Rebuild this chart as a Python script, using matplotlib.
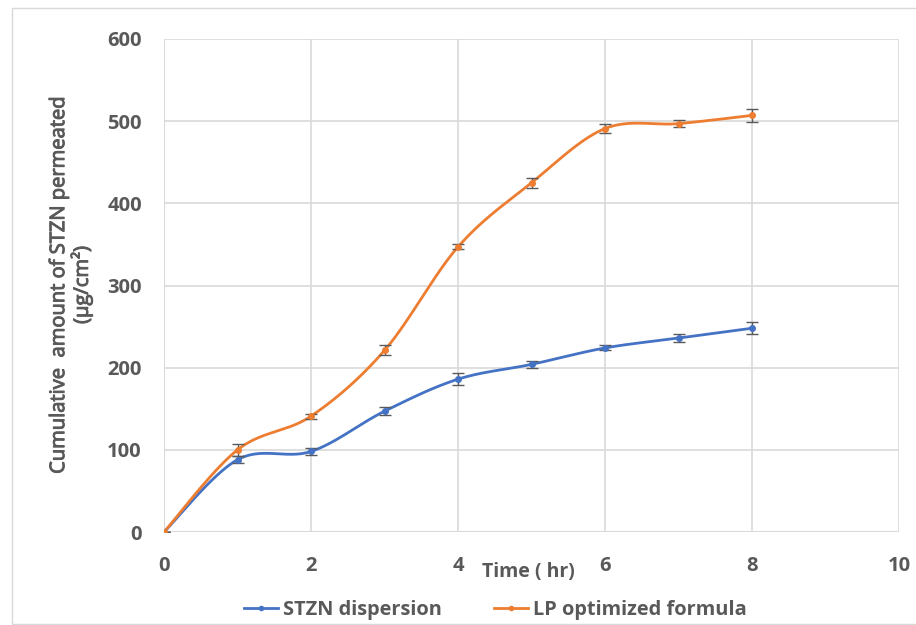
import numpy as np
import matplotlib
matplotlib.use("Agg")
import matplotlib.pyplot as plt
import matplotlib.patheffects as pe
from matplotlib.patches import Rectangle

plt.rcParams['font.family'] = ['Open Sans', 'DejaVu Sans']

time_hr = [0, 1, 2, 3, 4, 5, 6, 7, 8]
stzn_dispersion = [0, 88, 98, 147, 186, 204, 224, 236, 248]
stzn_err = [0, 4, 4, 5, 7, 4, 3, 5, 7]
lp_optimized = [0, 100, 141, 221, 347, 425, 491, 497, 507]
lp_err = [0, 7, 3, 6, 3, 6, 6, 4, 8]

x_ticks = [0, 2, 4, 6, 8, 10]
y_ticks = [0, 100, 200, 300, 400, 500, 600]

BLUE = '#4472C4'
ORANGE = '#ED7D31'
TXT = '#595959'
GRID = '#D9D9D9'


def smooth(x, y, n=40):
    """Catmull-Rom style Bezier smoothing through every point."""
    x = np.asarray(x, float)
    y = np.asarray(y, float)
    px = np.concatenate([[x[0]], x, [x[-1]]])
    py = np.concatenate([[y[0]], y, [y[-1]]])
    xs, ys = [], []
    t = np.linspace(0, 1, n)
    for i in range(1, len(px) - 2):
        p0 = np.array([px[i], py[i]])
        p3 = np.array([px[i + 1], py[i + 1]])
        c1 = p0 + (np.array([px[i + 1], py[i + 1]]) - np.array([px[i - 1], py[i - 1]])) / 6
        c2 = p3 - (np.array([px[i + 2], py[i + 2]]) - np.array([px[i], py[i]])) / 6
        b = ((1 - t) ** 3)[:, None] * p0 + (3 * (1 - t) ** 2 * t)[:, None] * c1 \
            + (3 * (1 - t) * t ** 2)[:, None] * c2 + (t ** 3)[:, None] * p3
        xs.extend(b[:, 0])
        ys.extend(b[:, 1])
    return xs, ys


fig = plt.figure(figsize=(9.16, 6.25), dpi=100)
ax = fig.add_axes([164 / 916, 1 - 532 / 625, (899 - 164) / 916, (532 - 39) / 625])

for yv, err, col, lab in [(stzn_dispersion, stzn_err, BLUE, 'STZN dispersion'),
                          (lp_optimized, lp_err, ORANGE, 'LP optimized formula')]:
    sx, sy = smooth(time_hr, yv)
    ax.plot(sx, sy, color=col, lw=2, zorder=3)
    ax.errorbar(time_hr, yv, yerr=err, fmt='none', ecolor='#595959',
                elinewidth=1, capsize=4, capthick=1, zorder=4)
    ax.plot(time_hr, yv, 'o', color=col, ms=4, zorder=5)
    ax.plot([], [], '-', marker='o', ms=3, color=col, lw=2, label=lab)

ax.set_xlim(0, 10)
ax.set_ylim(0, 600)
ax.set_xticks(x_ticks)
ax.set_yticks(y_ticks)
ax.grid(True, color=GRID, lw=1.2)
ax.set_axisbelow(True)
for s in ax.spines.values():
    s.set_visible(False)
ax.axhline(0, color=GRID, lw=1.5, zorder=1)
ax.axvline(0, color=GRID, lw=1.5, zorder=1)
ax.tick_params(length=0, labelsize=14.5, labelcolor=TXT)
ax.tick_params(axis='x', pad=17)
ax.tick_params(axis='y', pad=16)
for lbl in ax.get_xticklabels() + ax.get_yticklabels():
    lbl.set_fontweight('bold')

ylab = fig.text(71 / 916, 1 - 285 / 625,
                'Cumulative  amount of STZN permeated\n(\u00b5g/cm\u00b2)',
                rotation=90, ha='center', va='center', fontsize=14.5,
                color=TXT, linespacing=1.1)
ylab.set_path_effects([pe.withStroke(linewidth=0.7, foreground=TXT)])

fig.text(528 / 916, 1 - 572 / 625, 'Time ( hr)', ha='center', va='center',
         fontsize=14, color=TXT, fontweight='bold')

fig.legend(loc='center', bbox_to_anchor=(495 / 916, 1 - 610 / 625), ncol=2,
           frameon=False, handlelength=1.7, handletextpad=0.25,
           columnspacing=2.6, labelcolor=TXT,
           prop={'weight': 'bold', 'size': 14.4})

fig.patches.append(Rectangle((12 / 916, 0.002), 1.2, 1 - 8 / 625 - 0.002,
                             transform=fig.transFigure, fill=False,
                             edgecolor='#D9D9D9', lw=1))

fig.savefig('out.png', dpi=100, facecolor='white')
